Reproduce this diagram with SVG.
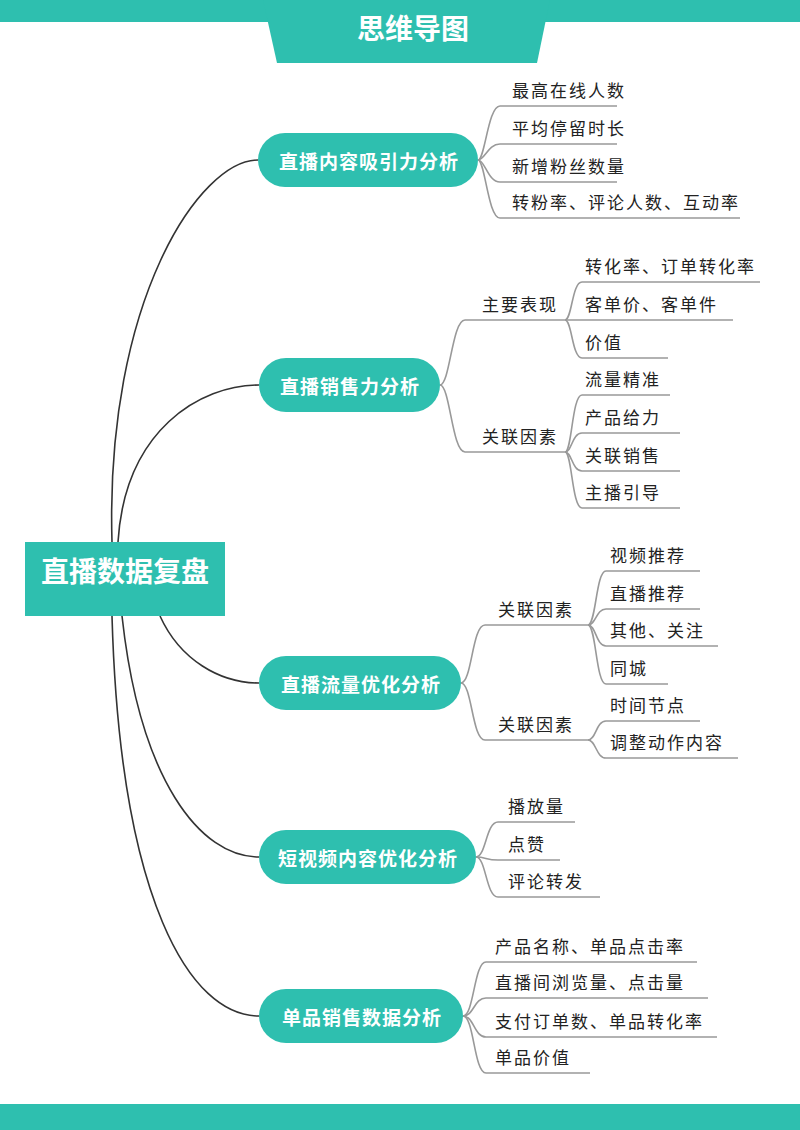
<svg xmlns="http://www.w3.org/2000/svg" width="800" height="1130" viewBox="0 0 800 1130">
<style>
.pill{fill:#2ebfaf}
.pt{fill:#fff;font-family:"Noto Sans CJK SC",sans-serif;font-size:19px;font-weight:bold;letter-spacing:1px;text-anchor:middle;dominant-baseline:central}
.lt{fill:#222;font-family:"Noto Sans CJK SC",sans-serif;font-size:17px;letter-spacing:2px}
.c{fill:none;stroke:#333;stroke-width:1.6}
.b{fill:none;stroke:#999;stroke-width:1.6}
</style>
<rect x="0" y="0" width="800" height="22" fill="#2ebfaf"/>
<polygon points="263,0 550,0 537,63 277,63" fill="#2ebfaf"/>
<text x="413" y="27" fill="#fff" font-family="Noto Sans CJK SC,sans-serif" font-size="28" font-weight="bold" text-anchor="middle" dominant-baseline="central">思维导图</text>
<rect x="0" y="1104" width="800" height="26" fill="#2ebfaf"/>
<g id="connectors">
<path class="c" d="M112 542 C105 300 200 160 258 160"/>
<path class="c" d="M118 542 C125 430 200 385 259 385"/>
<path class="c" d="M160 616 C180 660 220 683 259 683"/>
<path class="c" d="M122 616 C140 780 200 857 259 857"/>
<path class="c" d="M112 616 C120 900 190 1016 259 1016"/>
<path class="b" d="M478 160 C485 160 488 106 500 106 L617 106"/>
<path class="b" d="M478 160 C485 160 488 144 500 144 L617 144"/>
<path class="b" d="M478 160 C485 160 488 182 500 182 L617 182"/>
<path class="b" d="M478 160 C485 160 488 218 500 218 L740 218"/>
<path class="b" d="M440 385 C450 385 452 320 465 320 L565 320"/>
<path class="b" d="M440 385 C450 385 452 452 465 452 L565 452"/>
<path class="b" d="M565 320 C572 320 572 282 582 282 L760 282"/>
<path class="b" d="M565 320 L733 320"/>
<path class="b" d="M565 320 C572 320 572 358 582 358 L668 358"/>
<path class="b" d="M565 452 C572 452 572 395 582 395 L670 395"/>
<path class="b" d="M565 452 C572 452 572 433 582 433 L680 433"/>
<path class="b" d="M565 452 C572 452 572 471 582 471 L680 471"/>
<path class="b" d="M565 452 C572 452 572 508 582 508 L680 508"/>
<path class="b" d="M461 683 C472 683 472 625 485 625 L588 625"/>
<path class="b" d="M461 683 C472 683 472 740 485 740 L588 740"/>
<path class="b" d="M588 625 C596 625 596 571 606 571 L700 571"/>
<path class="b" d="M588 625 C596 625 596 609 606 609 L700 609"/>
<path class="b" d="M588 625 C596 625 596 646 606 646 L718 646"/>
<path class="b" d="M588 625 C596 625 596 684 606 684 L668 684"/>
<path class="b" d="M588 740 C596 740 596 721 606 721 L700 721"/>
<path class="b" d="M588 740 C596 740 596 758 606 758 L738 758"/>
<path class="b" d="M476 857 C486 857 486 822 498 822 L575 822"/>
<path class="b" d="M476 857 C486 857 486 860 498 860 L560 860"/>
<path class="b" d="M476 857 C486 857 486 897 498 897 L600 897"/>
<path class="b" d="M463 1016 C474 1016 474 962 486 962 L697 962"/>
<path class="b" d="M463 1016 C474 1016 474 998 486 998 L708 998"/>
<path class="b" d="M463 1016 C474 1016 474 1037 486 1037 L717 1037"/>
<path class="b" d="M463 1016 C474 1016 474 1073 486 1073 L590 1073"/>
</g>
<g id="root"><rect x="25" y="542" width="200" height="74" fill="#2ebfaf"/><text x="125" y="570" fill="#fff" font-family="Noto Sans CJK SC,sans-serif" font-size="28" font-weight="bold" text-anchor="middle" dominant-baseline="central">直播数据复盘</text></g>
<g id="n1"><rect class="pill" x="258" y="133" width="220" height="54" rx="27"/><text class="pt" x="369" y="160">直播内容吸引力分析</text></g>
<g id="n2"><rect class="pill" x="259" y="358" width="181" height="54" rx="27"/><text class="pt" x="350" y="385">直播销售力分析</text></g>
<g id="n3"><rect class="pill" x="259" y="656" width="202" height="54" rx="27"/><text class="pt" x="361" y="683">直播流量优化分析</text></g>
<g id="n4"><rect class="pill" x="259" y="830" width="217" height="54" rx="27"/><text class="pt" x="368" y="857">短视频内容优化分析</text></g>
<g id="n5"><rect class="pill" x="259" y="989" width="204" height="54" rx="27"/><text class="pt" x="362" y="1016">单品销售数据分析</text></g>
<g id="leaves">
<text class="lt" x="512" y="97">最高在线人数</text>
<text class="lt" x="512" y="135">平均停留时长</text>
<text class="lt" x="512" y="173">新增粉丝数量</text>
<text class="lt" x="512" y="209">转粉率、评论人数、互动率</text>
<text class="lt" x="482" y="311">主要表现</text>
<text class="lt" x="482" y="443">关联因素</text>
<text class="lt" x="585" y="273">转化率、订单转化率</text>
<text class="lt" x="585" y="311">客单价、客单件</text>
<text class="lt" x="585" y="349">价值</text>
<text class="lt" x="585" y="386">流量精准</text>
<text class="lt" x="585" y="424">产品给力</text>
<text class="lt" x="585" y="462">关联销售</text>
<text class="lt" x="585" y="499">主播引导</text>
<text class="lt" x="498" y="616">关联因素</text>
<text class="lt" x="498" y="731">关联因素</text>
<text class="lt" x="610" y="562">视频推荐</text>
<text class="lt" x="610" y="600">直播推荐</text>
<text class="lt" x="610" y="637">其他、关注</text>
<text class="lt" x="610" y="675">同城</text>
<text class="lt" x="610" y="712">时间节点</text>
<text class="lt" x="610" y="749">调整动作内容</text>
<text class="lt" x="508" y="813">播放量</text>
<text class="lt" x="508" y="851">点赞</text>
<text class="lt" x="508" y="888">评论转发</text>
<text class="lt" x="495" y="953">产品名称、单品点击率</text>
<text class="lt" x="495" y="989">直播间浏览量、点击量</text>
<text class="lt" x="495" y="1028">支付订单数、单品转化率</text>
<text class="lt" x="495" y="1064">单品价值</text>
</g>
</svg>
